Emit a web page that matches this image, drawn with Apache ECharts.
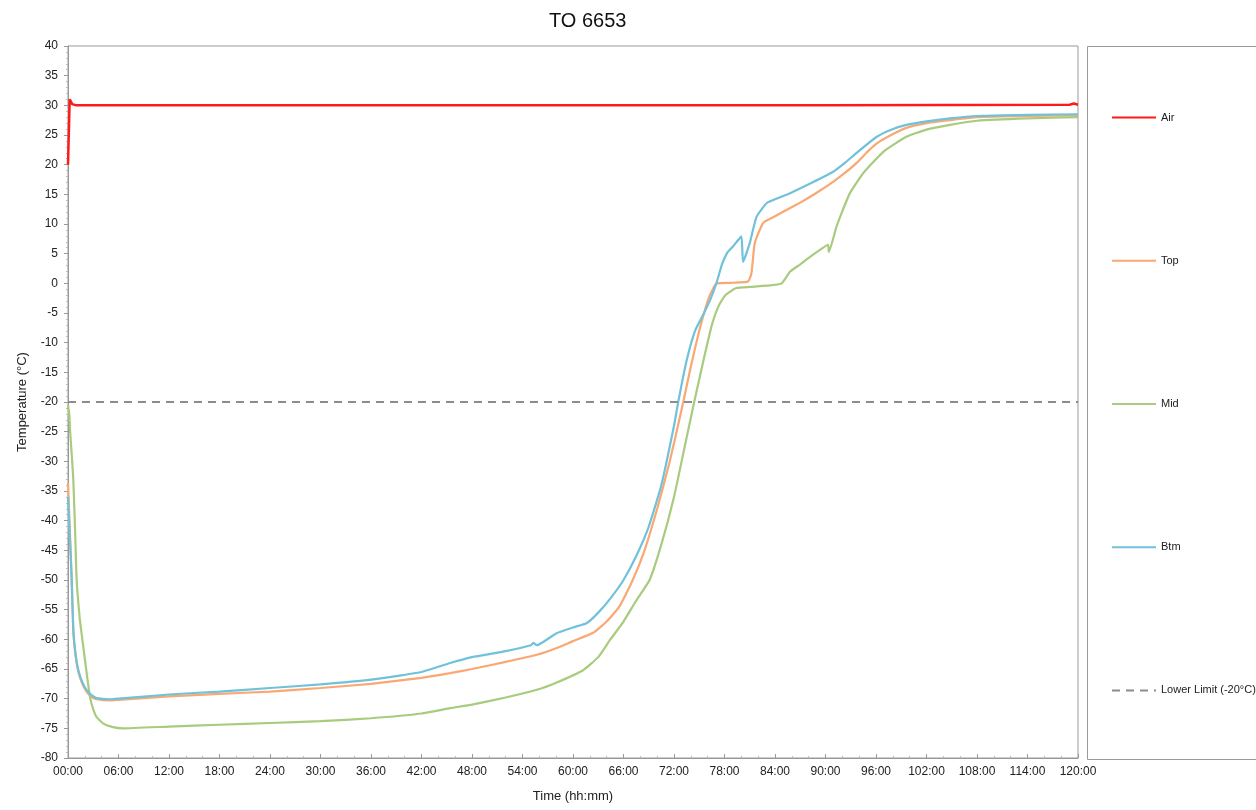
<!DOCTYPE html>
<html>
<head>
<meta charset="utf-8">
<title>TO 6653</title>
<script src="https://cdn.jsdelivr.net/npm/echarts@6/dist/echarts.min.js"></script>
<style>
  html, body { margin: 0; padding: 0; background: #fff; }
  #main { width: 1256px; height: 810px; }
</style>
</head>
<body>
<div id="main"></div>
<script>
// time in hours, temperature in °C
var airData = [[0, 20], [0.2, 31], [0.5, 30.2], [1, 30], [30, 30], [60, 30], [90, 30], [119, 30.1], [119.5, 30.3], [120, 30.1]];

var topData = [[0, -33.6], [0.2, -41], [0.44, -50], [0.63, -58.6], [0.9, -62.8], [1.23, -65.5], [1.7, -67.5], [2.2, -68.8], [2.8, -69.7],
  [3.4, -70.1], [5, -70.3], [6, -70.2], [12, -69.6], [18, -69.2], [24, -68.8], [30, -68.2], [36, -67.5], [42, -66.5], [45.4, -65.7],
  [48, -65], [52, -63.8], [55.7, -62.6], [58, -61.5], [60, -60.3], [62.4, -58.9], [64, -57], [65.5, -54.5], [67.1, -50], [68.5, -45],
  [70, -38], [71.5, -30], [73.1, -20], [74, -14], [75, -8], [76, -3], [76.6, -1], [77.1, 0], [79, 0.1], [80.8, 0.3], [81.2, 1.7],
  [81.6, 6.8], [82.6, 10.2], [84, 11.3], [85.4, 12.4], [87, 13.6], [89, 15.3], [90.9, 17.1], [92.3, 18.6], [93.7, 20.3], [95, 22.2],
  [96.1, 23.6], [97.8, 25], [99.6, 26.2], [102, 27], [104.8, 27.5], [108, 28], [114, 28.2], [120, 28.3]];

var midData = [[0, -20.5], [0.15, -22], [0.24, -24.7], [0.4, -28], [0.63, -33], [0.85, -42], [1.03, -50], [1.4, -56.5], [1.82, -61.3],
  [2.2, -65.5], [2.61, -69.7], [3, -71.8], [3.4, -73.1], [4.2, -74.2], [5.35, -74.8], [6.5, -75], [12, -74.7], [18, -74.4], [24, -74.1],
  [30, -73.8], [36, -73.3], [42, -72.5], [45.4, -71.6], [48, -71], [52, -69.8], [55.7, -68.5], [58, -67.3], [61.2, -65.2], [63, -63],
  [64.4, -60.1], [66, -57], [67.5, -53.5], [69.1, -50], [70.5, -44], [72, -36], [73.2, -28], [74.4, -20], [75.5, -13], [76.5, -7],
  [77.3, -3.8], [78.1, -2], [79.4, -0.8], [81, -0.6], [83, -0.4], [84.8, 0], [85.8, 2], [87, 3.2], [88.2, 4.5], [89.3, 5.6],
  [90.3, 6.5], [90.4, 5.3], [91.3, 9.5], [92.1, 12.5], [92.9, 15.2], [94.5, 18.6], [96.9, 22.2], [99.6, 24.7], [102, 25.9],
  [104.8, 26.7], [108, 27.4], [114, 27.8], [120, 28]];

var btmData = [[0, -36], [0.2, -42], [0.44, -50], [0.63, -58.4], [0.9, -62.5], [1.23, -65.2], [1.7, -67.2], [2.2, -68.5], [2.8, -69.4],
  [3.4, -69.9], [5, -70.1], [6, -70], [12, -69.3], [18, -68.8], [24, -68.2], [30, -67.6], [36, -66.8], [42, -65.5], [45.4, -64],
  [48, -63], [52, -62], [55, -61], [55.3, -60.6], [55.7, -61], [58, -59], [60, -58], [61.6, -57.3], [63, -55.5], [64.5, -53], [66, -50],
  [67.5, -46], [69, -41], [70.5, -34], [72, -24], [72.5, -20], [73.5, -13], [74.5, -8], [75.5, -5.2], [76.3, -2.8], [77.1, 0.3],
  [77.7, 3.2], [78.3, 5.1], [79, 6.2], [80, 7.9], [80.2, 3.6], [81, 6.8], [81.8, 11.2], [83, 13.5], [84.4, 14.4], [85.8, 15.2],
  [88.3, 16.9], [90.9, 18.8], [92.3, 20.3], [93.7, 22], [96.1, 24.7], [97.8, 25.9], [99.6, 26.7], [102, 27.3], [104.8, 27.8],
  [108, 28.2], [114, 28.4], [120, 28.5]];

var lowerLimit = [[0, -20], [120, -20]];

var seriesNames = ['Air', 'Top', 'Mid', 'Btm', 'Lower Limit (-20°C)'];
var seriesColors = ['#ff1a1a', '#f9a874', '#a8cb7e', '#70c2da', '#8c8c8c'];

var myChart = echarts.init(document.getElementById('main'));

function pad(n) { return (n < 10 ? '0' : '') + n; }

var option = {
  animation: false,
  textStyle: { fontFamily: 'Liberation Sans, Arial, sans-serif' },
  title: {
    text: 'TO 6653',
    left: 544,
    top: 6,
    textStyle: { fontSize: 20, fontWeight: 'normal', color: '#111' }
  },
  grid: {
    left: 68, right: 178, top: 46, bottom: 52,
    show: true, borderColor: '#999', borderWidth: 1
  },
  legend: {
    orient: 'vertical',
    left: 1106,
    top: 107,
    itemWidth: 44,
    itemHeight: 14,
    itemGap: 132,
    itemStyle: { opacity: 0 },
    textStyle: { fontSize: 11, color: '#222' },
    data: seriesNames
  },
  graphic: [{
    type: 'rect',
    shape: { x: 1087.5, y: 46.5, width: 200, height: 713 },
    style: { fill: 'none', stroke: '#999', lineWidth: 1 },
    z: 0
  }],
  xAxis: {
    type: 'value',
    min: 0, max: 120, interval: 6,
    name: 'Time (hh:mm)',
    nameLocation: 'middle',
    nameGap: 32,
    nameTextStyle: { fontSize: 13, color: '#222' },
    axisLine: { onZero: false, lineStyle: { color: '#999' } },
    axisTick: { inside: true, length: 4, lineStyle: { color: '#999' } },
    minorTick: { show: true, splitNumber: 3, length: 2, lineStyle: { color: '#bbb' } },
    splitLine: { show: false },
    axisLabel: {
      fontSize: 12, color: '#222', margin: 8,
      formatter: function (v) { return pad(v) + ':00'; }
    }
  },
  yAxis: {
    type: 'value',
    min: -80, max: 40, interval: 5,
    name: 'Temperature (°C)',
    nameLocation: 'middle',
    nameGap: 39,
    nameTextStyle: { fontSize: 13, color: '#222' },
    axisLine: { show: true, onZero: false, lineStyle: { color: '#999' } },
    axisTick: { show: true, length: 4, lineStyle: { color: '#999' } },
    minorTick: { show: true, splitNumber: 5, length: 2, lineStyle: { color: '#bbb' } },
    splitLine: { show: false },
    axisLabel: { fontSize: 12, color: '#222', margin: 10 }
  },
  series: [
    { name: 'Air', type: 'line', data: airData, symbol: 'none', color: seriesColors[0], lineStyle: { width: 2.5 } },
    { name: 'Top', type: 'line', data: topData, symbol: 'none', smooth: 0.15, color: seriesColors[1], lineStyle: { width: 2.2 } },
    { name: 'Mid', type: 'line', data: midData, symbol: 'none', smooth: 0.15, color: seriesColors[2], lineStyle: { width: 2.2 } },
    { name: 'Btm', type: 'line', data: btmData, symbol: 'none', smooth: 0.15, color: seriesColors[3], lineStyle: { width: 2.2 } },
    { name: 'Lower Limit (-20°C)', type: 'line', data: lowerLimit, symbol: 'none', color: seriesColors[4],
      lineStyle: { width: 2, type: [8, 6] } }
  ]
};

myChart.setOption(option);
</script>
</body>
</html>
